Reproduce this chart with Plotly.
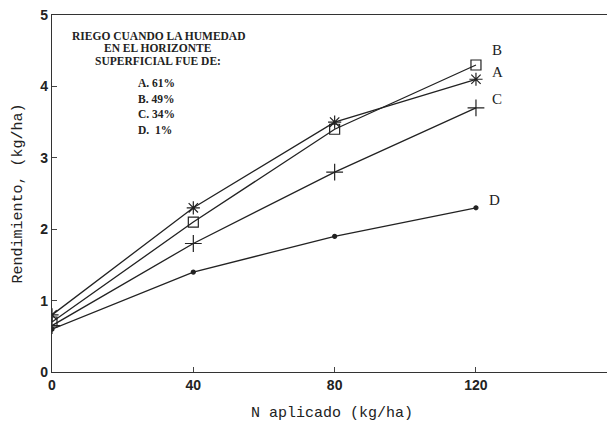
import plotly.graph_objects as go

x_vals = [0, 40, 80, 120]
serie_a = [0.8, 2.3, 3.5, 4.1]
serie_b = [0.7, 2.1, 3.4, 4.3]
serie_c = [0.65, 1.8, 2.8, 3.7]
serie_d = [0.6, 1.4, 1.9, 2.3]
series = [("A", serie_a, "asterisk-open", 11), ("B", serie_b, "square-open", 10),
          ("C", serie_c, "cross-thin-open", 12), ("D", serie_d, "circle", 4)]
x_ticks = [0, 40, 80, 120]
y_ticks = [0, 1, 2, 3, 4, 5]
legend_lines = ["RIEGO CUANDO LA HUMEDAD", "EN EL HORIZONTE", "SUPERFICIAL FUE DE:"]
legend_items = ["A. 61%", "B. 49%", "C. 34%", "D.  1%"]

fig = go.Figure()
for name, ys, sym, sz in series:
    fig.add_trace(go.Scatter(x=x_vals, y=ys, mode="lines+markers", name=name,
                             line=dict(color="#222", width=1.3),
                             marker=dict(symbol=sym, size=sz, color="#222",
                                         line=dict(color="#222", width=1.2))))

label_pos = {"B": (4.51, 0), "A": (4.2, 0), "C": (3.82, 0), "D": (2.41, -3)}
for name, ys, sym, sz in series:
    ly, dx = label_pos[name]
    fig.add_annotation(x=x_vals[-1], y=ly, text=name, showarrow=False,
                       xanchor="left", xshift=14 + dx,
                       font=dict(family="Liberation Serif", size=15, color="#222"))

mono = "Liberation Mono"
for i, t in enumerate(legend_lines):
    fig.add_annotation(xref="paper", yref="paper", x=0.190, y=1 - (13 + 12.5 * i) / 357,
                       text="<b>" + t + "</b>", showarrow=False, xanchor="center",
                       font=dict(family="Liberation Serif", size=11.5, color="#222"))
for i, t in enumerate(legend_items):
    fig.add_annotation(xref="paper", yref="paper", x=0.15, y=1 - (60 + 15.5 * i) / 357,
                       text="<b>" + t.replace(" ", "&nbsp;") + "</b>", showarrow=False, xanchor="left",
                       font=dict(family="Liberation Serif", size=11.5, color="#222"))

fig.update_layout(
    width=607, height=420,
    margin=dict(l=44, r=3, t=7, b=56),
    plot_bgcolor="white", paper_bgcolor="white",
    showlegend=False,
    xaxis=dict(range=[0, 158.5], tickvals=x_ticks, ticks="inside", ticklen=5,
               showgrid=False, zeroline=False, showline=True, linecolor="#333",
               linewidth=1.2, mirror=True, automargin=False, ticklabeloverflow="allow",
               tickfont=dict(family="Liberation Sans", size=14, color="#222", weight="bold"),
               title=dict(text="N aplicado (kg/ha)", standoff=14,
                          font=dict(family=mono, size=15, color="#222"))),
    yaxis=dict(range=[0, 5], tickvals=y_ticks, ticks="inside", ticklen=5,
               showgrid=False, zeroline=False, showline=True, linecolor="#333",
               linewidth=1.2, mirror=True, automargin=False, ticklabeloverflow="allow",
               tickfont=dict(family="Liberation Sans", size=14, color="#222", weight="bold"),
               title=dict(text="Rendimiento, (kg/ha)", standoff=14,
                          font=dict(family=mono, size=15, color="#222"))),
)
fig.write_html("out.html")
